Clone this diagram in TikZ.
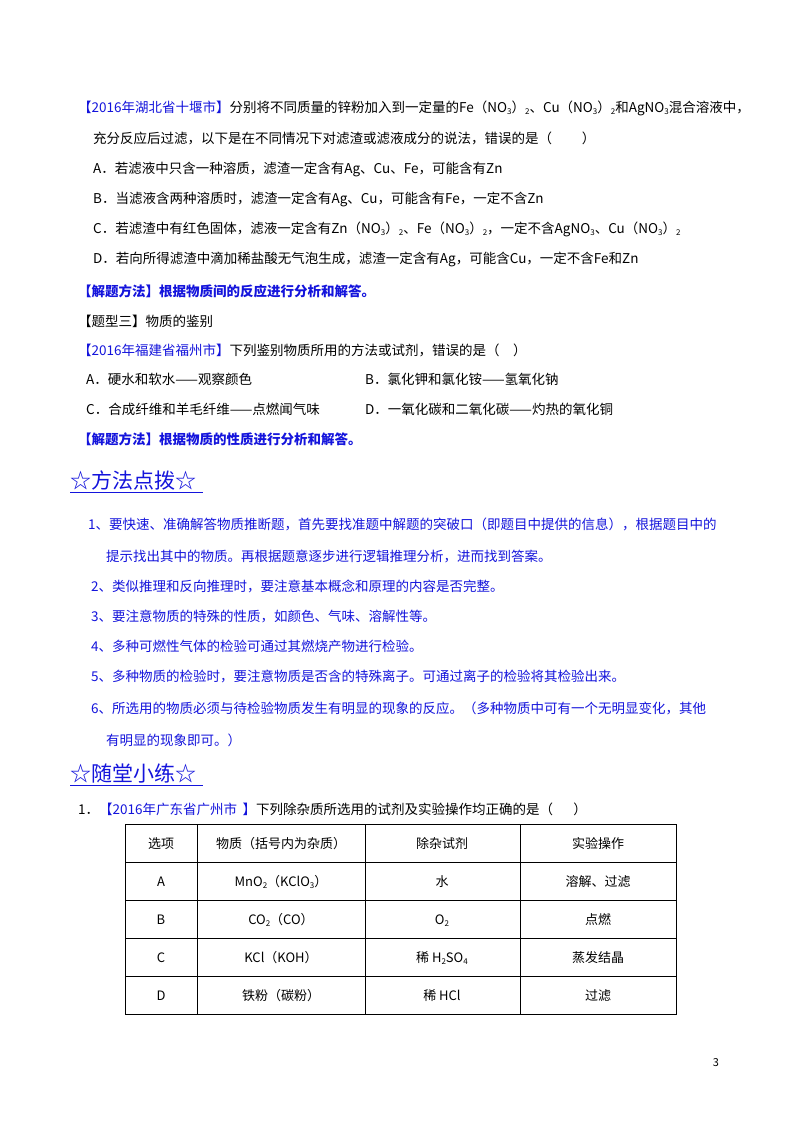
\documentclass[tikz,border=0pt]{standalone}
\usepackage{fontspec}
\setmainfont{Noto Sans CJK SC}
\newcommand\sbs[1]{\raisebox{-0.35ex}{\fontsize{8}{8}\selectfont #1}}
\definecolor{bl}{RGB}{20,20,220}
\begin{document}
\begin{tikzpicture}[x=1pt,y=-1pt,
  t/.style={anchor=base west,inner sep=0pt,font=\fontsize{13.5}{16}\selectfont},
  bt/.style={t,text=bl},
  h/.style={anchor=base west,inner sep=0pt,text=bl,font=\fontsize{21}{24}\selectfont},
  c/.style={anchor=base,inner sep=0pt,font=\fontsize{13}{16}\selectfont}]
\useasboundingbox[fill=white] (0,0) rectangle (800,1132);
\node[t] (l1) at (78,112) {\textcolor{bl}{【2016年湖北省十堰市】}分别将不同质量的锌粉加入到一定量的Fe（NO\sbs3）\sbs2、Cu（NO\sbs3）\sbs2和AgNO\sbs3混合溶液中，};
\node[t] (l2) at (93,143) {充分反应后过滤，以下是在不同情况下对滤渣或滤液成分的说法，错误的是（\hspace{2.2em}）};
\node[t] (la) at (93,173) {A．若滤液中只含一种溶质，滤渣一定含有Ag、Cu、Fe，可能含有Zn};
\node[t] (lb) at (93,203) {B．当滤液含两种溶质时，滤渣一定含有Ag、Cu，可能含有Fe，一定不含Zn};
\node[t] (lc) at (93,233) {C．若滤渣中有红色固体，滤液一定含有Zn（NO\sbs3）\sbs2、Fe（NO\sbs3）\sbs2，一定不含AgNO\sbs3、Cu（NO\sbs3）\sbs2};
\node[t] (ld) at (93,263) {D．若向所得滤渣中滴加稀盐酸无气泡生成，滤渣一定含有Ag，可能含Cu，一定不含Fe和Zn};
\node[bt,font=\fontsize{13.5}{16}\selectfont\bfseries] (m1) at (78,296) {【解题方法】根据物质间的反应进行分析和解答。};
\node[t] (tx) at (78,326) {【题型三】物质的鉴别};
\node[t] (q2) at (78,355) {\textcolor{bl}{【2016年福建省福州市】}下列鉴别物质所用的方法或试剂，错误的是（\hspace{1em}）};
\node[t] (qa) at (86,384) {A．硬水和软水——观察颜色};
\node[t] (qb) at (365,384) {B．氯化钾和氯化铵——氢氧化钠};
\node[t] (qc) at (86,414) {C．合成纤维和羊毛纤维——点燃闻气味};
\node[t] (qd) at (365,414) {D．一氧化碳和二氧化碳——灼热的氧化铜};
\node[bt,font=\fontsize{13.5}{16}\selectfont\bfseries] (m2) at (78,444) {【解题方法】根据物质的性质进行分析和解答。};
\node[h] (h1) at (70,488) {☆方法点拨☆};
\draw[bl,line width=1pt] (h1.south west)++(0,3) -- ++(133,0);
\node[bt] (p1) at (88,529) {1、要快速、准确解答物质推断题，首先要找准题中解题的突破口（即题目中提供的信息），根据题目中的};
\node[bt] (p1b) at (106,561) {提示找出其中的物质。再根据题意逐步进行逻辑推理分析，进而找到答案。};
\node[bt] (p2) at (91,591) {2、类似推理和反向推理时，要注意基本概念和原理的内容是否完整。};
\node[bt] (p3) at (91,621) {3、要注意物质的特殊的性质，如颜色、气味、溶解性等。};
\node[bt] (p4) at (91,651) {4、多种可燃性气体的检验可通过其燃烧产物进行检验。};
\node[bt] (p5) at (91,681) {5、多种物质的检验时，要注意物质是否含的特殊离子。可通过离子的检验将其检验出来。};
\node[bt] (p6) at (91,713) {6、所选用的物质必须与待检验物质发生有明显的现象的反应。（多种物质中可有一个无明显变化，其他};
\node[bt] (p6b) at (106,745) {有明显的现象即可。）};
\node[h] (h2) at (70,781) {☆随堂小练☆};
\draw[bl,line width=1pt] (h2.south west)++(0,3) -- ++(133,0);
\node[t] (r1) at (78,814) {1．\textcolor{bl}{【2016年广东省广州市\hspace{0.4em}】}下列除杂质所选用的试剂及实验操作均正确的是（\hspace{1.5em}）};
\draw[line width=0.7pt] (125,824) rectangle (676,1014);
\foreach \y in {862,900,938,976} \draw[line width=0.7pt] (125,\y) -- (676,\y);
\foreach \x in {197,365,520} \draw[line width=0.7pt] (\x,824) -- (\x,1014);
\node[c] (c00) at (161,848) {选项};
\node[c] (c01) at (281,848) {物质（括号内为杂质）};
\node[c] (c02) at (442,848) {除杂试剂};
\node[c] (c03) at (598,848) {实验操作};
\node[c] (c10) at (161,886) {A};
\node[c] (c11) at (281,886) {MnO\sbs2（KClO\sbs3）};
\node[c] (c12) at (442,886) {水};
\node[c] (c13) at (598,886) {溶解、过滤};
\node[c] (c20) at (161,924) {B};
\node[c] (c21) at (281,924) {CO\sbs2（CO）};
\node[c] (c22) at (442,924) {O\sbs2};
\node[c] (c23) at (598,924) {点燃};
\node[c] (c30) at (161,962) {C};
\node[c] (c31) at (281,962) {KCl（KOH）};
\node[c] (c32) at (442,962) {稀\ H\sbs2SO\sbs4};
\node[c] (c33) at (598,962) {蒸发结晶};
\node[c] (c40) at (161,1000) {D};
\node[c] (c41) at (281,1000) {铁粉（碳粉）};
\node[c] (c42) at (442,1000) {稀\ HCl};
\node[c] (c43) at (598,1000) {过滤};
\node[anchor=base,inner sep=0pt,font=\fontsize{11}{12}\selectfont] (pg) at (716,1066) {3};
\end{tikzpicture}
\end{document}
